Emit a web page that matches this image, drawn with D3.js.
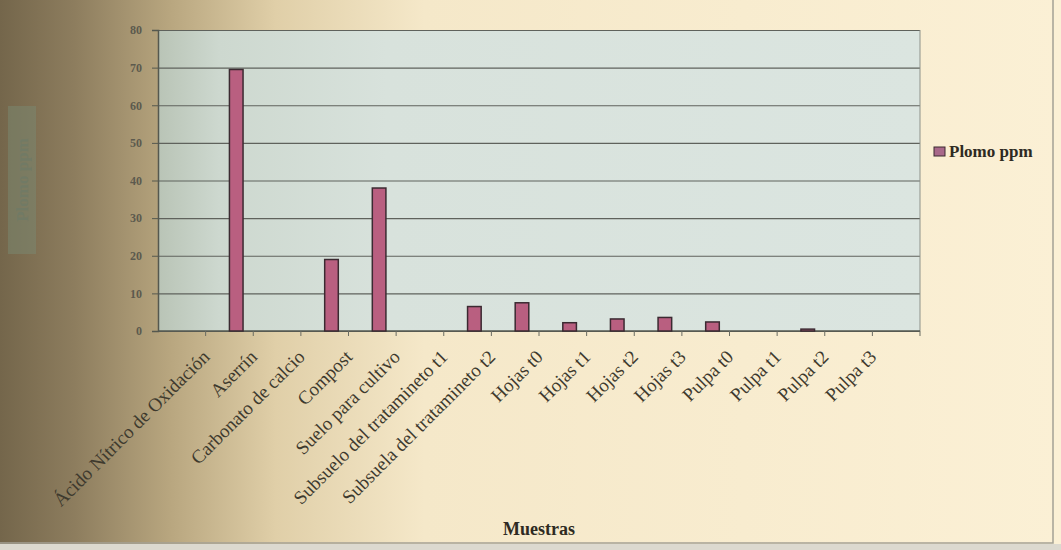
<!DOCTYPE html>
<html>
<head>
<meta charset="utf-8">
<script src="https://cdn.jsdelivr.net/npm/d3@7"></script>
<style>
    body { margin: 0; background: #f6ead0; }
    svg { display: block; }
</style>
</head>
<body>
<div id="chart"></div>
<script>
// categories (last one is the empty slot Excel left at the end)
const categories = [
    "Ácido Nítrico de Oxidación", "Aserrín", "Carbonato de calcio", "Compost",
    "Suelo para cultivo", "Subsuelo del tratamineto t1", "Subsuela del tratamineto t2",
    "Hojas t0", "Hojas t1", "Hojas t2", "Hojas t3",
    "Pulpa t0", "Pulpa t1", "Pulpa t2", "Pulpa t3", ""
];
const plomo_ppm = [0, 69.5, 0, 19, 38, 0, 6.5, 7.5, 2.2, 3.2, 3.6, 2.4, 0, 0.5, 0, 0];
const y_ticks = [0, 10, 20, 30, 40, 50, 60, 70, 80];
const series_name = "Plomo ppm";
const x_title = "Muestras";
const y_title = "Plomo ppm";

const width = 1061, height = 550;
const plot = { left: 158, right: 920, top: 30, bottom: 331 };

const svg = d3.select("#chart")
    .append("svg")
    .attr("width", width)
    .attr("height", height)

const defs = svg.append("defs");
const paper = defs.append("linearGradient").attr("id", "paper")
paper.selectAll("stop")
    .data([[0, "#74664b"], [0.07, "#8d7d5e"], [0.16, "#b8a67f"], [0.26, "#e0cfa8"], [0.4, "#f5e8c9"], [1, "#fbf0d5"]])
    .join("stop")
    .attr("offset", d => d[0])
    .attr("stop-color", d => d[1])

const plotFill = defs.append("linearGradient").attr("id", "plotFill")
plotFill.selectAll("stop")
    .data([[0, "#b9c4b6"], [0.08, "#cdd8cf"], [0.3, "#d8e2dc"], [1, "#dbe5e0"]])
    .join("stop")
    .attr("offset", d => d[0])
    .attr("stop-color", d => d[1])

// page / chart area
svg.append("rect")
    .attr("width", width)
    .attr("height", height)
    .attr("fill", "url(#paper)")

svg.append("rect")
    .attr("x", -2).attr("y", -2)
    .attr("width", 1055).attr("height", 545)
    .attr("fill", "none")
    .attr("stroke", "#a4a195")
    .attr("stroke-width", 1.5)

svg.append("rect")
    .attr("x", 0).attr("y", 544)
    .attr("width", width).attr("height", 6)
    .attr("fill", "#dcd9cf")

const x = d3.scaleBand()
    .domain(categories.map((c, i) => i))
    .range([plot.left, plot.right])
    .padding(0)

const y = d3.scaleLinear()
    .domain([0, 80])
    .range([plot.bottom, plot.top])

svg.append("rect")
    .attr("x", plot.left)
    .attr("y", plot.top)
    .attr("width", plot.right - plot.left)
    .attr("height", plot.bottom - plot.top)
    .attr("fill", "url(#plotFill)")

// gridlines
svg.append("g")
    .attr("transform", "translate(" + plot.left + ",0)")
    .call(d3.axisLeft(y).tickValues(y_ticks).tickSize(-(plot.right - plot.left)).tickFormat(""))
    .call(g => g.select(".domain").remove())
    .call(g => g.selectAll("line").attr("stroke", "#5f625c").attr("stroke-width", 1.2))

// y axis labels
svg.append("g")
    .attr("transform", "translate(" + plot.left + ",0)")
    .call(d3.axisLeft(y).tickValues(y_ticks).tickSize(6).tickPadding(10))
    .call(g => g.select(".domain").attr("stroke", "#55584f").attr("stroke-width", 1.5))
    .call(g => g.selectAll("line").attr("stroke", "#55584f"))
    .call(g => g.selectAll("text")
        .attr("font-family", "'Liberation Serif', serif")
        .attr("font-size", 12)
        .attr("font-weight", "bold")
        .attr("fill", "#5c5a4e"))

// right border
svg.append("line")
    .attr("x1", plot.right).attr("x2", plot.right)
    .attr("y1", plot.top).attr("y2", plot.bottom)
    .attr("stroke", "#8d918a")

// x axis with ticks between categories
const xAxis = svg.append("g")
xAxis.append("line")
    .attr("x1", plot.left).attr("x2", plot.right)
    .attr("y1", plot.bottom).attr("y2", plot.bottom)
    .attr("stroke", "#55584f")
    .attr("stroke-width", 1.5)
xAxis.selectAll("line.tick")
    .data(categories)
    .join("line")
    .attr("class", "tick")
    .attr("x1", (d, i) => x(i) + x.bandwidth())
    .attr("x2", (d, i) => x(i) + x.bandwidth())
    .attr("y1", plot.bottom)
    .attr("y2", plot.bottom + 5)
    .attr("stroke", "#6a6c62")

// bars (second slot of a two-series group, Excel gap 150%)
const barWidth = x.bandwidth() / 3.5;
const barData = plomo_ppm.map((v, i) => ({ i: i, v: v })).filter(d => d.v > 0);
svg.append("g")
    .selectAll("rect")
    .data(barData)
    .join("rect")
    .attr("x", d => x(d.i) + x.bandwidth() / 2)
    .attr("y", d => y(d.v))
    .attr("width", barWidth)
    .attr("height", d => plot.bottom - y(d.v))
    .attr("fill", "#b95f80")
    .attr("stroke", "#3b2a31")
    .attr("stroke-width", 1.5)

// category labels
svg.append("g")
    .selectAll("text")
    .data(categories)
    .join("text")
    .attr("transform", (d, i) => "translate(" + (x(i) + x.bandwidth() + 5) + "," + (plot.bottom + 27) + ") rotate(-45)")
    .attr("text-anchor", "end")
    .attr("font-family", "'Liberation Serif', serif")
    .attr("font-size", 19)
    .attr("fill", "#3e3a2e")
    .text(d => d)

// axis titles
svg.append("text")
    .attr("x", (plot.left + plot.right) / 2)
    .attr("y", 535)
    .attr("text-anchor", "middle")
    .attr("font-family", "'Liberation Serif', serif")
    .attr("font-weight", "bold")
    .attr("font-size", 18)
    .attr("fill", "#2e2a22")
    .text(x_title)

svg.append("rect")
    .attr("x", 8).attr("y", 106)
    .attr("width", 28).attr("height", 148)
    .attr("fill", "#7a876f")
    .attr("opacity", 0.55)
svg.append("text")
    .attr("transform", "translate(28,180) rotate(-90)")
    .attr("text-anchor", "middle")
    .attr("font-family", "'Liberation Serif', serif")
    .attr("font-weight", "bold")
    .attr("font-size", 17)
    .attr("fill", "#6c7a68")
    .attr("opacity", 0.6)
    .text(y_title)

// legend
const legend = svg.append("g").attr("transform", "translate(934,147)")
legend.append("rect")
    .attr("width", 11).attr("height", 9)
    .attr("fill", "#a8688a")
    .attr("stroke", "#3b2a31")
legend.append("text")
    .attr("x", 15)
    .attr("y", 10)
    .attr("font-family", "'Liberation Serif', serif")
    .attr("font-weight", "bold")
    .attr("font-size", 17)
    .attr("fill", "#2e2a22")
    .text(series_name)
</script>
</body>
</html>
